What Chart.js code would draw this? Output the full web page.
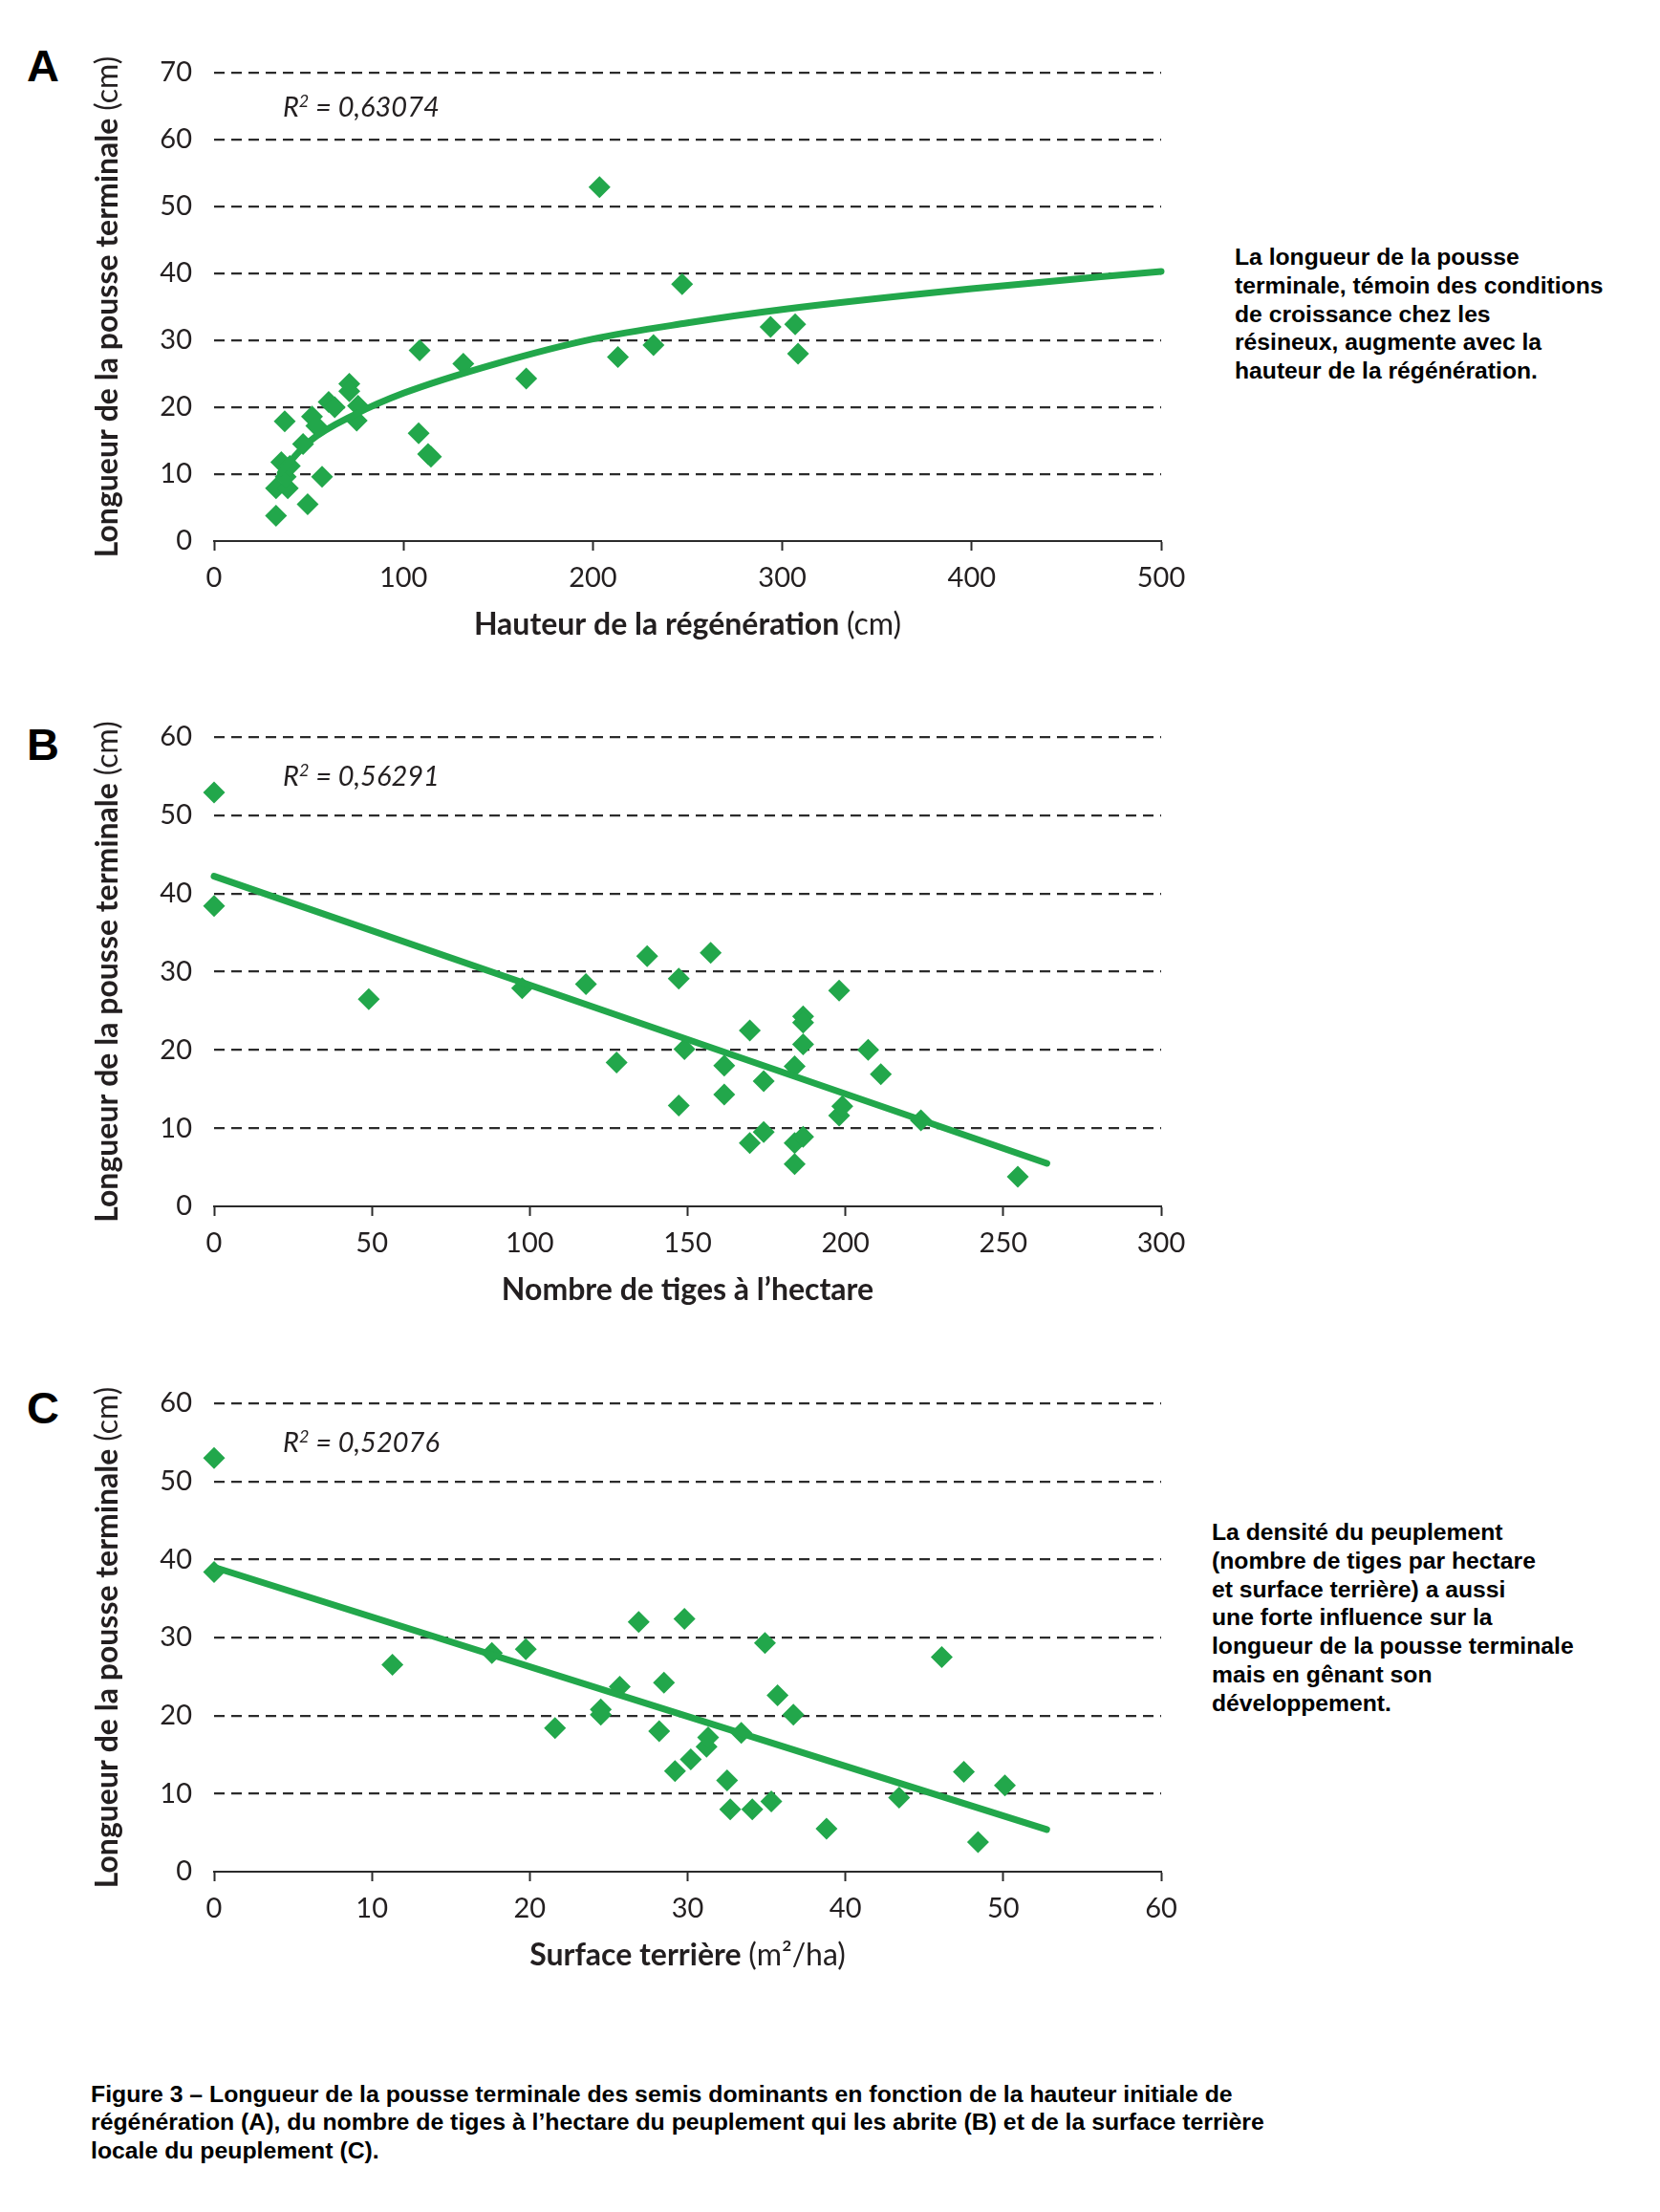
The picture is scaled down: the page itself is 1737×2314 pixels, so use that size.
<!DOCTYPE html>
<html lang="fr">
<head>
<meta charset="utf-8">
<title>Figure 3 – Longueur de la pousse terminale</title>
<script src="https://cdn.jsdelivr.net/npm/chart.js@4.4.1/dist/chart.umd.min.js"></script>
<style>
  html, body { margin: 0; padding: 0; background: #fff; }
  body { width: 1737px; height: 2314px; position: relative; overflow: hidden; }
  canvas { position: absolute; left: 0; }
  .letter { position: absolute; left: 28px; font: bold 47px "Liberation Sans", Arial, sans-serif; line-height: 1; color: #000; }
  .note { position: absolute; font: bold 24.7px "Liberation Sans", Arial, sans-serif; line-height: 29.8px; color: #000; }
  .caption { position: absolute; left: 95px; top: 2176px; font: bold 24.8px "Liberation Sans", Arial, sans-serif; line-height: 29.3px; color: #000; }
</style>
</head>
<body>
<div class="letter" style="top:45px">A</div>
<div class="letter" style="top:755px">B</div>
<div class="letter" style="top:1449px">C</div>

<canvas id="chartA" width="1260" height="700" style="top:0px"></canvas>
<canvas id="chartB" width="1260" height="690" style="top:700px"></canvas>
<canvas id="chartC" width="1260" height="700" style="top:1390px"></canvas>

<div class="note" style="left:1292px; top:254px">La longueur de la pousse<br>terminale, témoin des conditions<br>de croissance chez les<br>résineux, augmente avec la<br>hauteur de la régénération.</div>
<div class="note" style="left:1268px; top:1588px">La densité du peuplement<br>(nombre de tiges par hectare<br>et surface terrière) a aussi<br>une forte influence sur la<br>longueur de la pousse terminale<br>mais en gênant son<br>développement.</div>

<div class="caption">Figure 3 – Longueur de la pousse terminale des semis dominants en fonction de la hauteur initiale de<br>régénération (A), du nombre de tiges à l’hectare du peuplement qui les abrite (B) et de la surface terrière<br>locale du peuplement (C).</div>

<script>
// ---- data ----

// A : hauteur de la régénération (cm) vs longueur de la pousse terminale (cm)
const heightA = [32.7, 32.7, 35.5, 38.9, 37.8, 37.3, 40, 47, 49.4, 51.7, 54, 57, 60.5, 63.7, 71.4, 71.4,
                 76, 75.3, 108.5, 108, 113, 114.5, 131.6, 164.8, 203.5, 213.2, 232, 247.1, 293.8, 306.8, 308.3];
const shootA = [3.8, 7.9, 11.8, 7.9, 9.6, 17.9, 11.2, 14.5, 5.5, 18.6, 17.2, 9.6, 20.8, 20, 23.5, 22.4,
                20.2, 18, 28.5, 16.1, 13, 12.6, 26.5, 24.3, 52.9, 27.5, 29.3, 38.4, 32, 32.4, 28];
// logarithmic trend line
const trendXA = [35, 50, 75, 100, 150, 200, 250, 300, 400, 500];
const trendYA = [10.2, 14.8, 19.0, 22.1, 26.6, 30.2, 32.6, 34.6, 37.7, 40.3];

// B : nombre de tiges à l'hectare
const stemsB = [0, 0, 49, 97.6, 117.8, 127.5, 137.2, 147.2, 147.2, 149, 157.3, 161.6, 161.6, 169.7, 169.7, 174.1,
                174.1, 183.9, 183.9, 183.9, 186.6, 186.6, 186.6, 186.6, 198, 198, 199, 207.2, 211.2, 223.9, 254.6];
const shootB = [52.9, 38.4, 26.5, 27.9, 28.4, 18.4, 32, 29.1, 12.9, 20.1, 32.4, 18, 14.3, 22.5, 8.1, 16,
                9.5, 17.9, 8.1, 5.4, 8.9, 24.3, 23.5, 20.7, 27.6, 11.6, 12.8, 20, 16.9, 11, 3.8];
const trendXB = [0, 263.8];
const trendYB = [42.2, 5.5];

// C : surface terrière (m²/ha)
const basalC = [0, 0, 11.3, 17.6, 19.75, 21.6, 24.5, 24.5, 25.7, 26.9, 28.5, 28.2, 29.2, 29.8, 30.2, 31.2,
                31.3, 32.5, 32.7, 34.1, 33.4, 34.9, 35.3, 35.7, 36.7, 38.8, 43.4, 46.1, 47.5, 48.4, 50.1];
const shootC = [53, 38.4, 26.5, 28, 28.5, 18.4, 20.8, 20.1, 23.7, 32, 24.2, 18, 12.9, 32.4, 14.4, 16,
                17.2, 11.7, 8, 8, 17.8, 29.3, 9, 22.6, 20.1, 5.5, 9.5, 27.5, 12.8, 3.8, 11.05];
const trendXC = [0, 52.75];
const trendYC = [39.0, 5.4];

const r2Labels = ['0,63074', '0,56291', '0,52076'];

// ---- styling ----
const GREEN = '#22a74b';
const INK = '#231f20';
const GRID = '#2b2b2b';

Chart.defaults.font.family = "Lato, 'Open Sans', sans-serif";
Chart.defaults.color = INK;

function toPoints(xs, ys) {
    return xs.map((x, i) => ({ x: x, y: ys[i] }));
}

// axis titles with bold + regular parts, and the R² annotation
const textPlugin = {
    id: 'figText',
    afterDraw(chart, args, opts) {
        const ctx = chart.ctx;
        const area = chart.chartArea;
        ctx.save();
        ctx.fillStyle = INK;
        ctx.textBaseline = 'alphabetic';
        ctx.textAlign = 'left';

        const drawParts = (parts, startX, y) => {
            let x = startX;
            parts.forEach(p => {
                ctx.font = p.font;
                ctx.fillText(p.text, x, y);
                x += ctx.measureText(p.text).width;
            });
        };
        const partsWidth = parts => parts.reduce((w, p) => {
            ctx.font = p.font;
            return w + ctx.measureText(p.text).width;
        }, 0);

        // x title
        const xw = partsWidth(opts.xTitle);
        drawParts(opts.xTitle, (area.left + area.right) / 2 - xw / 2, area.bottom + 98);

        // y title (rotated)
        const yParts = [
            { text: 'Longueur de la pousse terminale ', font: 'bold 32px Lato' },
            { text: '(cm)', font: '32px Lato' }
        ];
        const yw = partsWidth(yParts);
        ctx.translate(123, (area.top + area.bottom) / 2);
        ctx.rotate(-Math.PI / 2);
        drawParts(yParts, -yw / 2, 0);
        ctx.setTransform(1, 0, 0, 1, 0, 0);

        // R² label
        const px = chart.scales.x.getPixelForValue(opts.r2.x);
        const py = chart.scales.y.getPixelForValue(opts.r2.y) + 10;
        ctx.font = 'italic 29px Lato';
        ctx.fillText('R', px, py);
        let cx = px + ctx.measureText('R').width;
        ctx.font = 'italic 18px Lato';
        ctx.fillText('2', cx, py - 10);
        cx += ctx.measureText('2').width;
        ctx.font = 'italic 29px Lato';
        ctx.fillText(' = ' + opts.r2.text, cx, py);
        ctx.restore();
    }
};

function initChart(id, cfg) {
    const canvas = document.getElementById(id);
    const ctx = canvas.getContext('2d');
    return new Chart(ctx, {
        type: 'scatter',
        data: {
            datasets: [
                {
                    type: 'line',
                    data: toPoints(cfg.trendX, cfg.trendY),
                    borderColor: GREEN,
                    borderWidth: 7,
                    borderCapStyle: 'round',
                    pointRadius: 0,
                    fill: false,
                    clip: false,
                    cubicInterpolationMode: 'monotone',
                    order: 0
                },
                {
                    data: toPoints(cfg.xs, cfg.ys),
                    pointStyle: 'rectRot',
                    pointRadius: 11.5,
                    pointBorderWidth: 0,
                    backgroundColor: GREEN,
                    borderColor: GREEN,
                    clip: false,
                    order: 1
                }
            ]
        },
        options: {
            responsive: false,
            animation: false,
            devicePixelRatio: 1,
            events: [],
            layout: { padding: { top: cfg.areaTop, right: 45, left: 0, bottom: 0 } },
            plugins: {
                legend: { display: false },
                tooltip: { enabled: false },
                figText: { xTitle: cfg.xTitle, r2: cfg.r2 }
            },
            scales: {
                x: {
                    type: 'linear',
                    position: 'bottom',
                    min: 0,
                    max: cfg.xMax,
                    ticks: { stepSize: cfg.xStep, padding: 11, font: { size: 29 }, color: INK },
                    grid: { drawOnChartArea: false, drawTicks: true, tickLength: 10, tickColor: GRID, tickWidth: 2 },
                    border: { display: true, color: GRID, width: 2 },
                    afterFit: s => { s.height = cfg.height - cfg.areaBottom; }
                },
                y: {
                    min: 0,
                    max: cfg.yMax,
                    ticks: { stepSize: 10, padding: 23, font: { size: 29 }, color: INK },
                    grid: {
                        drawTicks: false,
                        lineWidth: 2.2,
                        color: c => (c.tick && c.tick.value === 0 ? 'rgba(0,0,0,0)' : GRID)
                    },
                    border: { display: false, dash: [11, 7] },
                    afterFit: s => { s.width = 224; }
                }
            }
        },
        plugins: [textPlugin]
    });
}

const chartA = initChart('chartA', {
    xs: heightA, ys: shootA, trendX: trendXA, trendY: trendYA,
    xMax: 500, xStep: 100, yMax: 70,
    height: 700, areaTop: 76, areaBottom: 566,
    xTitle: [
        { text: 'Hauteur de la régénération ', font: 'bold 32px Lato' },
        { text: '(cm)', font: '32px Lato' }
    ],
    r2: { x: 36.3, y: 64.9, text: r2Labels[0] }
});

const chartB = initChart('chartB', {
    xs: stemsB, ys: shootB, trendX: trendXB, trendY: trendYB,
    xMax: 300, xStep: 50, yMax: 60,
    height: 690, areaTop: 71, areaBottom: 562,
    xTitle: [
        { text: 'Nombre de tiges à l’hectare', font: 'bold 32px Lato' }
    ],
    r2: { x: 21.8, y: 55, text: r2Labels[1] }
});

const chartC = initChart('chartC', {
    xs: basalC, ys: shootC, trendX: trendXC, trendY: trendYC,
    xMax: 60, xStep: 10, yMax: 60,
    height: 700, areaTop: 78, areaBottom: 568,
    xTitle: [
        { text: 'Surface terrière ', font: 'bold 32px Lato' },
        { text: '(m²/ha)', font: '32px Lato' }
    ],
    r2: { x: 4.36, y: 55, text: r2Labels[2] }
});
</script>
</body>
</html>
